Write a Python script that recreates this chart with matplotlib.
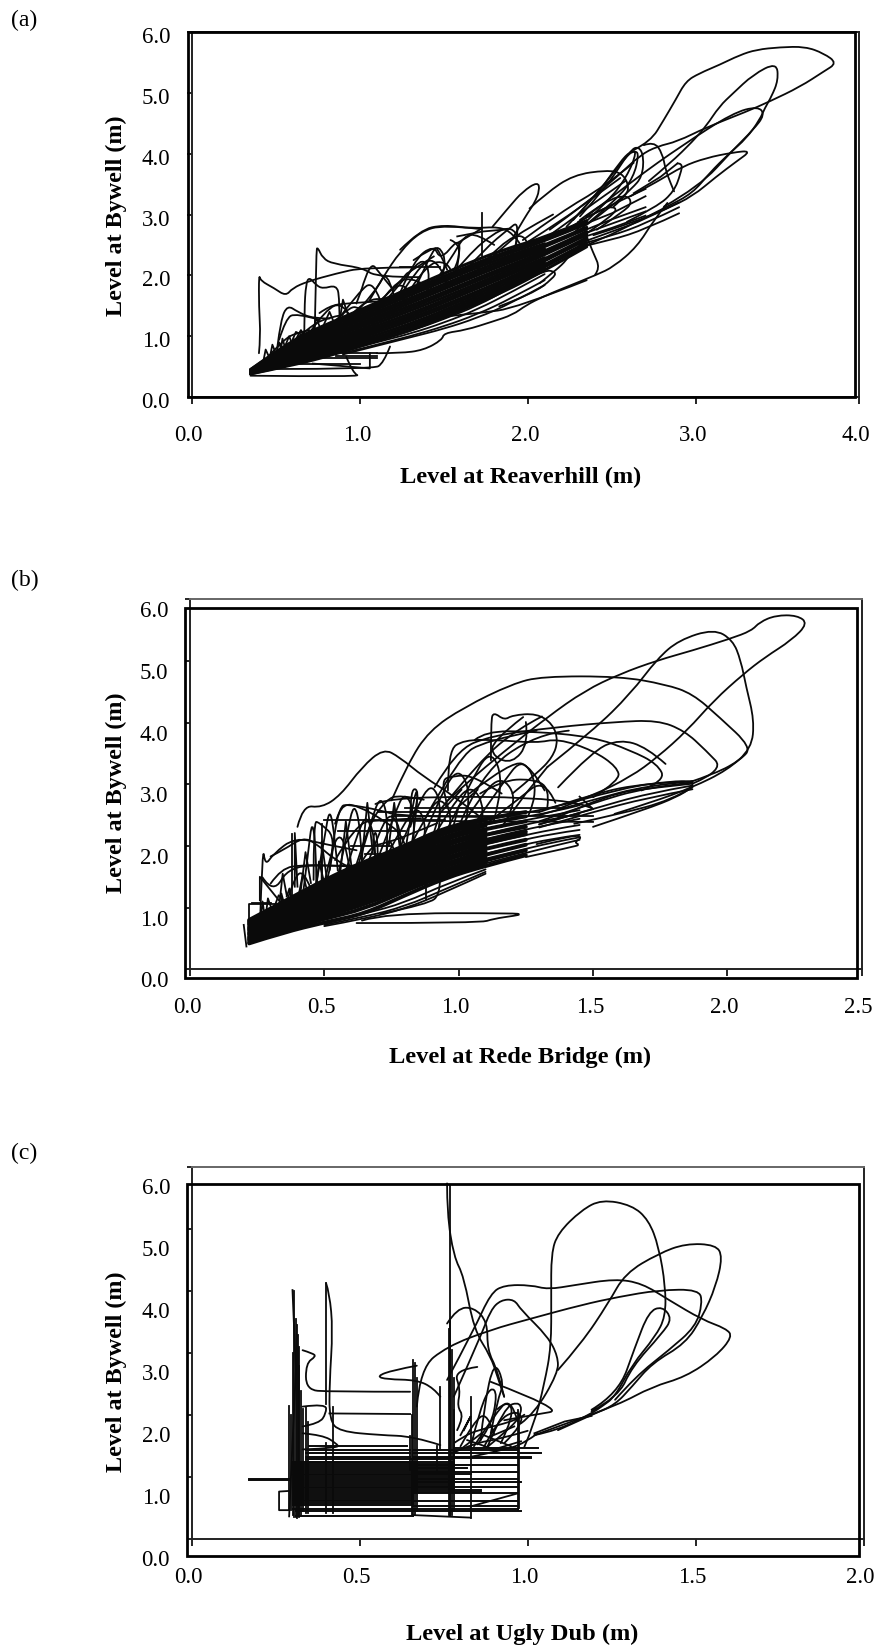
import numpy as np
import matplotlib
matplotlib.use("Agg")
import matplotlib.pyplot as plt
from matplotlib.patches import Rectangle, PathPatch
from matplotlib.path import Path
from matplotlib.transforms import ScaledTranslation

plt.rcParams['font.family'] = ['Liberation Serif', 'DejaVu Serif']

nan = np.nan

# ---------- panel (a) Reaverhill ----------
a_flood1 = [(2.63,4.06),(2.73,4.20),(2.81,4.56),(2.88,4.89),(2.94,5.19),(3.02,5.32),(3.14,5.46),(3.26,5.62),
            (3.36,5.71),(3.50,5.75),(3.65,5.76),(3.76,5.65),(3.84,5.49),(3.76,5.35),(3.62,5.10),(3.44,4.86),
            (3.30,4.69),(3.06,4.43),(2.89,4.20),(2.77,4.12),(2.67,3.98),(2.53,3.62),(2.35,3.19),(2.13,2.75)]
a_flood2 = [(2.72,3.55),(2.85,3.85),(2.98,4.20),(3.06,4.45),(3.14,4.78),(3.22,4.99),(3.34,5.30),(3.48,5.50),(3.49,5.21),(3.45,4.94),
            (3.41,4.75),(3.38,4.56),(3.30,4.25),(3.20,4.01),(3.08,3.68),(2.98,3.35),(2.83,3.13),(2.67,2.91),
            (2.43,2.58),(2.23,2.36)]
a_flood3 = [(2.35,2.97),(2.63,3.57),(2.92,4.14),(3.22,4.67),(3.37,4.78),(3.41,4.64),(3.34,4.39),(3.22,4.06),
            (3.02,3.46),(2.81,3.13)]
a_flood4 = [(2.61,3.30),(2.79,3.57),(2.92,3.79),(3.06,3.93),(3.22,4.02),(3.33,4.05),(3.24,3.87),(3.12,3.62),
            (2.98,3.30),(2.83,3.10),(2.63,2.87),(2.39,2.66)]
a_falling = [(2.83,3.19),(2.75,2.91),(2.65,2.47),(2.51,2.14),(2.41,2.01),(2.23,1.81),(2.09,1.65),(1.99,1.51),
             (1.91,1.35),(1.79,1.24),(1.63,1.10),(1.50,1.05),(1.49,0.94),(1.38,0.77),(1.24,0.72),(1.10,0.72)]
a_spike1 = [(0.40,0.72),(0.41,0.99),(0.40,1.49),(0.40,2.02),(0.41,1.91),(0.49,1.79),(0.56,1.66),(0.60,1.79),
            (0.69,1.90),(0.86,2.03),(1.02,2.13),(1.32,2.13)]
a_spike2 = [(0.73,0.66),(0.74,2.42),(0.75,2.46),(0.78,2.28),(0.84,2.19),(1.02,2.12),(1.10,1.97),(1.36,1.97)]
a_loops = [
    [(2.89,3.84),(2.92,3.84),(2.91,3.68),(2.87,3.38),(2.77,3.13),(2.59,2.88)],
    [(2.63,3.35),(2.79,3.62),(2.89,3.84)],
    [(2.69,4.14),(2.75,4.20),(2.80,4.01),(2.82,3.73),(2.85,3.51),(2.87,3.38)],
    [(2.31,2.97),(2.47,3.46),(2.61,4.06),(2.66,4.12),(2.69,3.95),(2.68,3.62),(2.62,3.43),(2.51,3.16),(2.35,2.83)],
    [(2.27,2.91),(2.43,3.40),(2.59,3.98),(2.64,4.05),(2.66,3.98),(2.63,3.62),(2.53,3.24),(2.31,2.75)],
    [(2.23,2.80),(2.41,3.32),(2.55,3.87),(2.61,4.04),(2.65,4.04),(2.59,3.62),(2.47,3.19),(2.27,2.69)],
    [(2.31,2.91),(2.47,3.24),(2.59,3.32),(2.62,3.19),(2.57,3.05),(2.41,2.75)],
    [(2.23,2.75),(2.43,3.10),(2.53,3.13),(2.51,2.99),(2.35,2.69)],
    [(2.01,3.10),(2.11,3.35),(2.27,3.65),(2.47,3.73),(2.56,3.68),(2.60,3.49),(2.59,3.32),(2.51,3.13)],
    [(1.79,2.80),(1.89,3.13),(1.97,3.38),(2.06,3.54),(2.07,3.40),(2.04,3.19),(2.00,3.03),(1.95,2.80),(1.91,2.61)],
    [(1.97,2.58),(2.20,3.05),(2.45,3.45),(2.63,3.85)],
    [(2.35,1.92),(1.93,1.46),(1.71,1.38),(1.50,1.32)],
    [(2.35,2.64),(2.39,2.36),(2.43,2.12),(2.40,2.01)],
    [(2.07,1.87),(2.17,2.09),(2.23,2.25),(2.26,2.39),(2.21,2.31)],
    [(1.83,1.70),(2.09,2.09),(2.17,2.06),(2.15,1.95),(2.03,1.70),(1.83,1.49)],
    [(1.24,2.42),(1.36,2.75),(1.50,2.83),(1.67,2.77),(1.83,2.80),(1.91,2.69),(1.95,2.53)],
    [(1.73,3.02),(1.73,2.31)],
    [(1.58,2.64),(1.73,2.72),(1.89,2.76)],
    [(1.24,2.13),(1.48,2.13)],
    [(1.32,2.25),(1.44,2.47),(1.47,2.42),(1.52,2.09)],
    [(1.54,2.58),(1.59,2.53),(1.59,2.25),(1.56,2.09)],
    [(0.67,0.94),(0.67,1.43),(0.68,1.87),(0.70,1.97),(0.74,1.84),(0.78,1.78),(0.86,1.84),(0.88,1.65),(0.88,1.10)],
    [(0.51,0.83),(0.53,1.27),(0.57,1.51),(0.63,1.40),(0.72,1.29),(0.82,1.29)],
    [(0.52,0.94),(0.56,1.29),(0.62,1.38),(0.76,1.27)],
    [(0.60,0.94),(0.62,1.07),(0.68,0.99)],
    [(0.76,1.38),(0.82,1.50),(0.92,1.54),(1.12,1.57),(1.32,1.62)],
    [(1.06,1.60),(1.14,1.98),(1.24,2.39),(1.36,2.72),(1.50,2.83),(1.72,2.76)],
    [(1.01,1.76),(1.06,2.24),(1.12,2.03),(1.20,1.76)],
    [(0.98,1.54),(1.01,1.76)],
    [(1.24,1.71),(1.32,2.25),(1.44,2.50),(1.48,2.25),(1.58,2.58),(1.60,2.47),(1.58,2.14)],
    [(1.30,1.76),(1.40,2.20),(1.52,2.23),(1.54,2.09)],
    [(1.20,1.78),(1.28,2.03),(1.44,2.31)],
    [(1.58,2.53),(1.72,2.76)],
    [(1.18,0.83),(1.14,0.55),(1.08,0.46),(0.48,0.46)],
    [(0.92,0.66),(0.96,0.39),(1.01,0.33),(0.35,0.35)],
    [(1.06,0.72),(1.06,0.47),(0.72,0.55)],
    [(1.10,0.67),(0.86,0.67)],
    [(0.47,0.72),(0.48,0.86),(0.50,0.72)],
    [(0.53,0.77),(0.54,0.96),(0.56,0.77)],
    [(1.10,0.72),(0.50,0.72)],
    [(1.00,0.55),(0.50,0.55)],
    [(1.10,0.64),(0.60,0.64)],
    # fringe above the dense band
    [(.80,1.10),(.92,1.45),(1.00,1.50),(1.05,1.30)],
    [(.85,1.20),(1.00,1.75),(1.08,1.90),(1.12,1.60)],
    [(.95,1.30),(1.10,1.75),(1.16,2.10),(1.20,1.70)],
    [(1.00,1.40),(1.10,1.50),(1.25,1.95),(1.30,1.70)],
    [(1.10,1.40),(1.28,2.00),(1.38,2.30),(1.42,2.00),(1.40,1.70)],
    [(1.20,1.50),(1.35,2.15),(1.45,2.30),(1.50,2.00)],
    [(1.30,1.60),(1.42,2.35),(1.47,2.50),(1.52,2.20),(1.48,1.90)],
    [(1.40,1.70),(1.55,2.30),(1.62,2.65),(1.70,2.68),(1.80,2.50)],
    [(1.50,1.85),(1.65,2.35),(1.80,2.70),(1.90,2.80),(1.95,2.60),(1.90,2.30)],
    [(1.60,2.00),(1.75,2.45),(1.88,2.75),(1.95,2.90),(1.93,2.50)],
    [(1.70,2.10),(1.85,2.55),(1.98,2.70),(2.00,2.50)],
    [(1.75,2.20),(1.90,2.60),(2.05,2.85),(2.15,3.00)],
    [(2.00,2.55),(2.20,2.90),(2.40,3.30),(2.55,3.60)],
    [(2.10,2.60),(2.30,3.00),(2.45,3.30),(2.58,3.55)],
    [(.45,.65),(.55,.95),(.62,1.05),(.70,1.10)],
    [(.60,.90),(.70,1.15),(.80,1.30),(.90,1.35)],
    [(.70,1.05),(.80,1.45),(.90,1.55),(.95,1.30)],
    [(.55,.80),(.58,1.00),(.60,.85)],
    [(.62,.95),(.65,1.10),(.68,.95)],
    [(.72,1.05),(.74,1.30),(.77,1.10)],
    [(.42,.50),(.44,.78),(.47,.60)],
    [(.50,.70),(.52,.90),(.54,.72)],
    [(.78,1.15),(.82,1.40),(.85,1.20)],
    [(.88,1.25),(.90,1.60),(.93,1.35)],
    [(.95,1.35),(1.04,1.62),(1.18,1.60),(1.25,1.75)],
    [(1.12,1.55),(1.20,1.85),(1.30,1.98),(1.38,1.85)],
]
a_band_x = [0.35, 0.6, 0.85, 1.1, 1.35, 1.6, 1.85, 2.1, 2.35]
a_band_y = [
    [.38,.52,.70,.92,1.14,1.42,1.72,2.08,2.47],
    [.38,.54,.73,.96,1.18,1.46,1.75,2.11,nan],
    [.39,.56,.76,.98,1.21,1.50,1.79,2.13,2.51],
    [.39,.59,.79,1.02,1.25,1.54,1.83,2.17,2.54],
    [.40,.61,.82,1.06,1.30,1.58,1.87,2.20,nan],
    [.40,.64,.85,1.10,1.34,1.62,1.91,2.23,2.59],
    [.41,.67,.89,1.13,1.38,1.67,1.96,2.26,2.62],
    [.41,.69,.92,1.17,1.42,1.71,2.00,2.29,nan],
    [.42,.72,.95,1.21,1.47,1.75,2.04,2.33,2.67],
    [.42,.74,.99,1.25,1.51,1.80,2.08,2.36,2.69],
    [.42,.77,1.02,1.29,1.55,1.84,2.12,2.39,2.72],
    [.43,.80,1.05,1.32,1.60,1.89,2.17,2.43,nan],
    [.43,.82,1.09,1.36,1.64,1.93,2.21,2.46,2.77],
    [.44,.85,1.12,1.40,1.68,1.97,2.25,2.49,2.79],
    [.44,.87,1.15,1.44,1.73,2.02,2.29,2.52,nan],
    [.44,.90,1.19,1.48,1.77,2.06,2.33,2.56,2.85],
    [.45,.92,1.22,1.51,1.81,2.10,2.37,2.59,2.87],
    [.45,.95,1.25,1.55,1.85,2.15,2.42,2.62,2.90],
]
a_under_x = [0.9, 1.1, 1.3, 1.5, 1.7, 1.9, 2.1]
a_under_y = [
    [.72,.86,1.00,1.16,1.36,1.62,1.92],
    [.75,.90,1.04,1.22,1.44,1.72,2.02],
    [.70,.84,.98,1.12,1.30,1.54,1.84],
    [.78,.92,1.08,1.28,1.50,1.80,2.10],
]
a_fan_x = [2.3, 2.5, 2.7, 2.9]
a_fan_y = [
    [2.50,2.65,2.85,3.12],
    [2.60,2.78,2.98,nan],
    [2.70,2.92,3.12,nan],
    [2.80,3.02,3.30,nan],
    [2.88,3.16,3.42,nan],
    [2.52,2.72,2.92,3.20],
    [2.65,2.85,3.05,nan],
    [2.46,2.58,2.76,3.02],
]

# ---------- panel (b) Rede Bridge ----------
b_flood1 = [(0.96,2.74),(1.04,3.06),(1.16,3.50),(1.33,4.09),(1.47,4.52),(1.60,4.79),(1.74,5.01),(1.87,5.17),
            (2.01,5.36),(2.09,5.49),(2.12,5.63),(2.18,5.74),(2.26,5.74),(2.30,5.61),(2.24,5.34),(2.14,5.06),
            (2.06,4.79),(1.95,4.36),(1.85,3.87),(1.74,3.44),(1.64,3.12),(1.50,2.82),(1.37,2.60)]
b_flood2 = [(1.33,3.28),(1.50,3.87),(1.64,4.47),(1.74,5.04),(1.82,5.34),(1.95,5.52),(2.02,5.34),(2.05,5.01),
            (2.07,4.58),(2.10,4.04),(2.09,3.58),(2.00,3.23),(1.87,2.95),(1.72,2.71),(1.58,2.52)]
b_flood3 = [(0.75,2.74),(0.81,3.33),(0.89,3.87),(1.02,4.25),(1.20,4.63),(1.31,4.75),(1.60,4.75),(1.77,4.62),
            (1.87,4.47),(1.97,4.09),(2.09,3.60),(2.05,3.40),(1.96,3.18),(1.85,3.02)]
b_flood4 = [(0.91,2.95),(0.99,3.55),(1.12,3.79),(1.37,3.93),(1.58,4.01),(1.74,4.04),(1.84,3.87),(1.92,3.55),
            (1.99,3.23),(1.87,3.01)]
b_early = [(0.40,2.31),(0.42,2.66),(0.49,2.62),(0.56,2.82),(0.64,3.28),(0.72,3.58),(0.78,3.44),(0.87,3.12),
           (0.98,2.82),(1.08,2.47)]
b_low = [(0.62,0.75),(1.08,0.75),(1.13,0.82),(1.21,0.87),(1.23,0.89),(1.21,0.91),(0.73,0.91),(0.64,0.79)]
b_loops = [
    [(0.96,2.90),(0.96,3.55),(1.02,3.72),(1.14,3.72),(1.29,3.67),(1.37,3.74),(1.50,3.55),(1.59,3.28),(1.60,3.06),(1.50,2.79)],
    [(1.06,3.72),(1.10,3.86),(1.27,3.86),(1.50,3.77),(1.64,3.55),(1.74,3.33),(1.77,3.06),(1.68,2.90)],
    [(1.37,2.95),(1.50,3.55),(1.60,3.73),(1.70,3.60),(1.77,3.33)],
    [(1.45,2.74),(1.62,2.95),(1.79,3.05),(1.87,3.05),(1.87,2.95),(1.81,2.79),(1.70,2.60),(1.50,2.31)],
    [(1.12,3.39),(1.12,4.04),(1.13,4.17),(1.17,4.04),(1.20,4.12),(1.29,4.15),(1.35,3.98),(1.37,3.71),(1.35,3.44),(1.29,3.17),(1.20,2.85)],
    [(1.24,4.09),(1.12,3.69),(1.13,3.44),(1.20,3.34),(1.26,3.66),(1.25,4.01)],
    [(0.96,2.63),(0.93,3.06),(0.98,3.14),(1.06,3.14),(1.16,2.85)],
    [(0.69,2.68),(0.75,2.81),(1.43,2.78),(1.50,2.60)],
    [(0.71,2.41),(1.50,2.39)],
    [(0.75,2.49),(1.50,2.49)],
    [(0.54,2.36),(0.56,2.63),(0.58,2.68),(0.71,2.58),(0.79,2.47),(1.16,2.47)],
    [(0.26,0.68),(0.27,2.03),(0.28,1.68),(0.31,1.87),(0.39,2.14),(0.50,2.03),(0.62,1.93)],
    [(0.27,1.49),(0.31,1.22),(0.37,1.68),(0.54,1.68),(0.75,1.68)],
    [(0.38,2.20),(0.38,0.68)],
    [(0.22,0.68),(0.22,1.06),(0.37,1.06)],
    [(0.49,2.36),(0.49,1.22)],
    [(1.29,2.03),(1.43,2.18),(1.46,2.14),(1.43,2.06),(1.45,2.02),(1.43,1.99),(1.25,1.82)],
    [(0.93,1.44),(0.93,1.22),(0.89,1.06),(0.71,0.90)],
    [(0.88,1.44),(0.88,1.14)],
    [(1.04,2.85),(1.20,3.39),(1.27,3.28),(1.32,2.90)],
    [(1.08,2.85),(1.16,3.06),(1.27,3.09),(1.34,2.95),(1.33,2.63)],
    [(1.00,2.31),(1.08,3.17),(1.29,3.82),(1.41,3.87)],
    [(0.87,2.41),(1.00,3.44),(1.10,3.71),(1.29,3.87)],
    [(0.93,2.58),(1.08,3.39),(1.22,3.90),(1.31,4.10)],
    [(0.82,2.41),(0.82,2.98),(0.86,2.85),(0.82,2.31)],
    [(1.16,2.31),(1.25,2.85),(1.33,3.28)],
    [(1.37,2.47),(1.56,2.85),(1.74,2.95),(1.87,3.01)],
    [(1.43,2.36),(1.60,2.52),(1.79,2.74),(1.87,2.95)],
    [(0.46,1.45),(0.46,2.39),(0.48,2.39),(0.55,2.10),(0.51,1.45)],
    [(0.52,1.61),(0.54,2.37),(0.57,2.69),(0.63,2.64),(0.72,2.42),(0.80,2.15),(0.82,1.72)],
    [(0.61,1.56),(0.66,2.31),(0.73,2.75),(0.78,2.83),(0.87,2.75)],
    [(0.70,1.45),(0.70,2.37),(0.67,1.99),(0.72,1.45)],
    [(0.49,1.45),(0.49,2.07),(0.51,1.45)],
    [(0.39,1.34),(0.39,2.21),(0.40,1.34)],
    [(0.30,1.83),(0.35,1.94),(0.42,2.14),(0.47,2.04),(0.54,1.77),(0.59,1.66)],
    [(0.30,1.39),(0.34,1.64),(0.42,1.69),(0.51,1.69),(0.62,1.66)],
    [(0.54,1.77),(0.62,2.37),(0.70,2.42),(0.86,2.45)],
    [(0.80,1.88),(0.84,3.02),(0.85,2.69),(0.82,1.88)],
    [(0.88,1.83),(0.93,2.53),(1.01,2.91)],
    [(0.62,1.61),(0.67,1.99),(0.72,2.04),(0.80,2.15),(0.92,2.37)],
    [(0.73,1.56),(0.73,2.15),(0.76,1.99),(0.78,1.56)],
    [(0.96,1.99),(1.00,2.64),(1.07,2.91)],
    [(0.34,1.07),(0.26,1.50),(0.26,1.12)],
    [(0.34,1.07),(0.34,1.23),(0.35,1.07)],
    [(0.36,1.18),(0.37,1.31),(0.38,1.10)],
    [(0.23,1.07),(0.30,1.07)],
    [(0.20,0.72),(0.21,0.37)],
    # fringe above the dense band
    [(.42,1.20),(.44,1.90),(.455,2.45),(.47,1.90),(.47,1.40)],
    [(.47,1.40),(.50,2.10),(.52,2.65),(.54,2.10),(.55,1.60)],
    [(.50,1.40),(.53,2.00),(.56,2.20),(.585,1.90),(.60,1.50)],
    [(.55,1.50),(.585,2.20),(.61,2.72),(.635,2.30),(.64,1.70)],
    [(.58,1.60),(.63,2.30),(.66,2.50),(.69,2.10),(.69,1.70)],
    [(.62,1.60),(.67,2.35),(.71,2.85),(.74,2.40),(.73,1.80)],
    [(.66,1.70),(.71,2.30),(.75,2.55),(.79,2.20),(.78,1.90)],
    [(.70,1.80),(.76,2.50),(.80,2.90),(.84,2.50),(.83,2.00)],
    [(.74,1.90),(.80,2.40),(.85,2.65),(.88,2.30),(.87,2.10)],
    [(.78,1.95),(.84,2.60),(.90,3.05),(.94,2.60),(.92,2.10)],
    [(.82,2.00),(.88,2.50),(.93,2.80),(.98,2.50),(.96,2.20)],
    [(.86,2.05),(.93,2.80),(1.00,3.30),(1.05,2.80),(1.02,2.25)],
    [(.90,2.10),(.98,2.70),(1.05,3.00),(1.10,2.60),(1.08,2.30)],
    [(.95,2.20),(1.04,3.00),(1.12,3.60),(1.17,3.00),(1.13,2.40)],
    [(1.00,2.25),(1.08,2.80),(1.16,3.15),(1.22,2.75),(1.18,2.45)],
    [(1.05,2.30),(1.16,3.00),(1.24,3.45),(1.30,2.90),(1.26,2.50)],
    [(1.10,2.35),(1.22,2.75),(1.32,3.10),(1.36,2.70)],
    [(.35,.95),(.38,1.40),(.42,1.65),(.45,1.30)],
    [(.33,.95),(.345,1.55),(.36,1.20)],
    [(.41,1.20),(.43,1.90),(.45,1.40)],
    [(.56,1.60),(.58,2.40),(.60,1.70)],
    [(.64,1.80),(.66,2.70),(.68,1.90)],
    [(.74,2.00),(.76,2.70),(.78,2.00)],
    [(.47,1.30),(.48,1.75),(.50,1.40)],
    [(.30,.85),(.33,1.20),(.36,1.05)],
    [(.28,.80),(.29,1.15),(.31,.90)],
    [(.26,.70),(.27,1.10),(.28,.80)],
    [(.40,1.10),(.42,1.55),(.44,1.20)],
    [(.50,2.42),(.95,2.42)],
    [(.55,2.25),(.80,2.25)],
    [(.60,2.00),(.75,2.00)],
    [(.65,1.87),(.90,1.87)],
    [(.70,2.55),(1.30,2.55)],
    [(.80,2.62),(1.40,2.62)],
    [(1.30,2.35),(1.50,2.60),(1.45,2.80)],
]
b_band_x = [0.22, 0.35, 0.5, 0.65, 0.8, 0.95, 1.1, 1.25, 1.4]
b_band_y = [
    [.42,.60,.76,.90,1.20,1.48,1.68,1.85,nan],
    [.44,.63,.82,.98,1.27,1.53,1.73,nan,nan],
    [.47,.66,.86,1.05,1.31,1.58,1.77,1.93,nan],
    [.49,.69,.90,1.09,1.36,1.63,1.82,nan,nan],
    [.51,.72,.94,1.14,1.41,1.68,1.86,2.02,nan],
    [.53,.75,.98,1.19,1.45,1.73,1.91,nan,nan],
    [.56,.78,1.02,1.24,1.50,1.78,1.96,2.10,nan],
    [.58,.81,1.06,1.29,1.55,1.82,2.00,nan,nan],
    [.60,.84,1.10,1.33,1.59,1.87,2.05,2.19,nan],
    [.63,.87,1.14,1.38,1.64,1.92,2.10,2.23,nan],
    [.65,.90,1.18,1.43,1.69,1.97,2.14,nan,nan],
    [.67,.93,1.22,1.48,1.73,2.02,2.19,2.31,nan],
    [.69,.96,1.26,1.53,1.78,2.07,2.23,nan,nan],
    [.72,.99,1.30,1.57,1.83,2.12,2.28,2.40,nan],
    [.74,1.02,1.34,1.62,1.87,2.17,2.33,nan,nan],
    [.76,1.05,1.38,1.67,1.92,2.22,2.37,2.48,nan],
    [.78,1.08,1.42,1.72,1.97,2.27,2.42,nan,nan],
    [.80,1.10,1.45,1.75,2.00,2.30,2.45,2.55,nan],
]
b_under_x = [0.5, 0.65, 0.8, 0.95, 1.1]
b_under_y = [
    [.72,.85,1.02,1.30,1.58],
    [.74,.90,1.08,1.38,1.62],
    [.70,.82,.98,1.25,1.55],
]
b_tail_x = [1.05, 1.2, 1.35, 1.45]
b_tail_y = [
    [1.66,1.83,2.00,2.10],
    [1.74,1.90,2.06,2.14],
    [1.82,1.98,2.12,2.18],
    [1.90,2.06,2.20,2.26],
    [1.98,2.13,2.27,2.34],
    [2.06,2.22,2.36,2.44],
    [2.14,2.30,2.44,2.52],
    [2.22,2.38,2.50,2.58],
    [2.30,2.44,2.55,2.66],
    [2.38,2.50,2.62,2.74],
]
b_fan_x = [1.3, 1.5, 1.7, 1.87]
b_fan_y = [
    [2.40,2.70,2.95,3.03],
    [2.50,2.75,2.98,3.05],
    [2.55,2.85,3.02,3.05],
    [2.35,2.60,2.85,2.98],
    [2.30,2.55,2.78,2.92],
]

# ---------- panel (c) Ugly Dub ----------
c_flood1 = [(0.99,1.49),(1.02,1.87),(1.05,2.52),(1.07,3.11),(1.07,3.91),(1.07,4.61),(1.09,4.94),(1.16,5.31),
            (1.22,5.48),(1.31,5.39),(1.36,5.15),(1.39,4.72),(1.41,4.08),(1.41,3.59),(1.38,3.27),(1.31,2.81),
            (1.26,2.30),(1.22,2.14),(1.19,2.03),(1.09,1.76),(1.02,1.68)]
c_flood2 = [(1.09,2.73),(1.16,3.16),(1.24,3.81),(1.29,4.29),(1.39,4.61),(1.47,4.77),(1.56,4.75),(1.58,4.56),
            (1.56,4.08),(1.52,3.59),(1.47,3.16),(1.37,2.84),(1.31,2.46),(1.26,2.17),(1.20,2.03),(1.09,1.76)]
c_flood3 = [(0.76,2.57),(0.84,3.38),(0.89,3.97),(0.93,4.10),(1.01,4.10),(1.06,4.03),(1.14,4.10),(1.26,4.20),
            (1.34,4.13),(1.42,3.86),(1.52,3.54),(1.59,3.40),(1.61,3.27),(1.56,2.95),(1.47,2.62),(1.37,2.46),
            (1.27,2.17),(1.09,1.82),(1.02,1.68)]
c_flood4 = [(0.67,2.14),(0.68,2.76),(0.76,3.11),(0.89,3.38),(1.01,3.56),(1.16,3.78),(1.27,3.91),(1.39,4.02),
            (1.51,4.03),(1.52,3.81),(1.50,3.43),(1.42,3.05),(1.32,2.62),(1.26,2.25)]
c_loops = [
    [(1.19,2.09),(1.27,2.35),(1.32,3.11),(1.36,3.67),(1.40,3.76),(1.43,3.56),(1.40,3.32),(1.31,2.78),(1.27,2.30),(1.19,2.06)],
    [(0.76,5.74),(0.76,5.26),(0.78,4.56),(0.81,4.24),(0.84,3.38),(0.89,2.95),(0.91,2.62),(0.93,2.30)],
    [(0.77,5.72),(0.77,0.96)],
    [(0.78,2.30),(0.86,3.27),(0.89,3.70),(0.92,3.86),(0.96,3.87),(0.98,3.70),(1.06,3.27),(1.09,2.95),(1.09,2.68),(1.02,2.03),(0.98,1.87)],
    [(0.76,3.48),(0.79,3.73),(0.84,3.74),(0.88,3.51),(0.88,3.05),(0.91,2.73),(0.93,2.30)],
    [(0.89,2.54),(1.11,2.09),(1.02,2.01),(0.93,1.92)],
    [(0.67,2.80),(0.60,2.73),(0.55,2.63),(0.58,2.58),(0.67,2.57),(0.72,2.44),(0.74,2.30)],
    [(0.30,4.02),(0.31,2.73),(0.29,0.37)],
    [(0.40,4.13),(0.41,3.97),(0.42,3.38),(0.41,2.52),(0.41,1.92),(0.44,1.74),(0.56,1.68),(0.66,1.66),(0.74,1.52)],
    [(0.40,4.13),(0.40,2.19)],
    [(0.33,3.05),(0.36,3.00),(0.37,2.95),(0.34,2.84),(0.34,2.41),(0.41,2.38),(0.65,2.38)],
    [(0.41,2.03),(0.65,2.02)],
    [(0.33,2.14),(0.40,2.19),(0.40,2.03),(0.38,1.87),(0.33,1.82)],
    [(0.33,1.71),(0.39,1.68),(0.43,1.55),(0.44,1.47),(0.33,1.45)],
    [(0.29,0.78),(0.26,0.77),(0.26,0.77),(0.26,0.47),(0.26,0.47),(0.29,0.47)],
    [(0.83,0.53),(0.97,0.74)],
    [(0.83,1.49),(0.86,2.14),(0.89,2.46),(0.91,2.35),(0.89,1.81),(0.85,1.53)],
    [(0.88,1.49),(0.93,2.14),(0.98,2.22),(0.98,1.98),(0.93,1.71),(0.88,1.49)],
    [(0.93,1.55),(0.99,1.87),(0.97,2.09),(0.91,1.92),(0.87,1.49)],
    [(0.79,1.76),(0.81,1.98),(0.79,2.14),(0.80,2.41),(0.78,2.73),(0.85,2.78)],
    [(0.80,1.68),(0.83,1.98),(0.81,1.76)],
    [(0.86,1.60),(0.87,2.14),(0.90,2.89),(0.93,2.52),(0.91,2.25),(0.89,1.71)],
    [(1.03,1.71),(0.99,1.55),(0.93,1.44),(0.83,1.33)],
    [(1.02,1.71),(1.11,1.90),(1.19,1.99)],
    [(0.78,1.55),(0.81,1.66),(0.85,1.76),(0.97,1.92),(0.99,2.01)],
    [(0.89,1.66),(0.96,1.82)],
    [(0.82,1.60),(0.90,1.45),(0.98,1.58)],
    [(0.80,1.45),(0.86,1.70),(0.95,1.50)],
    [(0.83,0.35),(0.83,2.30)],
    [(0.66,0.39),(0.83,0.35)],
    [(0.80,1.50),(0.84,1.90),(0.88,2.05),(0.90,1.70)],
    [(0.84,1.50),(0.90,2.00),(0.95,2.30),(0.97,1.90)],
    [(0.92,1.55),(0.96,2.00),(0.94,2.25),(0.91,2.10)],
    [(0.78,1.40),(0.84,1.55),(0.92,1.62),(1.00,1.75)],
]
c_flat_y = [.38,.45,.49,.55,.58,.61,.64,.67,.70,.73,.76,.79,.82,.85,.88,.91,.94,.97,1.00,1.03,1.06,1.09,1.12,1.15,1.18,1.21,1.24,
            1.25,1.29,1.33,1.39,1.44,1.50,.955,.97,
            .45,.49,.53,.62,.74,.77,.80,.85,.93,.98,1.09,1.20,1.31,1.33,1.39,1.44,1.47,1.15,1.05]
c_flat_x0 = [.31,.31,.30,.30,.30,.30,.30,.30,.30,.30,.30,.30,.30,.30,.30,.30,.30,.30,.30,.30,.30,.30,.30,.30,.30,.30,.30,
             .34,.34,.34,.34,.34,.35,.17,.17,
             .66,.66,.66,.66,.66,.66,.66,.66,.66,.66,.66,.66,.66,.66,.66,.66,.78,.66,.66]
c_flat_x1 = [.66,.66,.66,.66,.66,.66,.66,.66,.66,.66,.66,.66,.78,.78,.78,.78,.78,.78,.78,.78,.78,.78,.78,.78,.78,.78,.78,
             .65,.78,.65,.65,.65,.64,.29,.29,
             .98,.97,.97,.97,.97,.86,.86,.97,.98,.97,.97,.97,1.01,1.01,1.04,.97,1.03,.82,.83]
c_vert_x = [.305,.31,.315,.32,.325,.33,.29,.295,.34,.345,.42,.66,.665,.67,.73,.74,.765,.77,.775,.78,.65,.97,.975,.78,.40,.30,.312,.318,.655,.768]
c_vert_top = [4.0,3.55,3.3,2.8,2.4,2.1,2.15,2.0,2.14,1.9,2.14,2.9,2.85,2.6,1.5,2.46,3.4,3.55,3.05,2.6,1.66,2.09,2.0,2.09,1.55,3.0,3.45,3.1,2.0,3.5]
c_vert_bot = [.36,.36,.40,.36,.40,.45,.47,.47,.42,.42,.42,.37,.40,.45,1.12,1.44,.40,.37,.40,.45,1.12,.47,.50,1.2,.42,.40,.34,.38,.40,.40]

# ---------- shared text ----------
y_ticks = [0, 1, 2, 3, 4, 5, 6]
y_labels = ['0.0', '1.0', '2.0', '3.0', '4.0', '5.0', '6.0']
a_xticks = [0, 1, 2, 3, 3.972]
a_xlabels = ['0.0', '1.0', '2.0', '3.0', '4.0']
b_xticks = [0, 0.5, 1.0, 1.5, 2.0, 2.5]
b_xlabels = ['0.0', '0.5', '1.0', '1.5', '2.0', '2.5']
c_xticks = [0, 0.5, 1.0, 1.5, 2.0]
c_xlabels = ['0.0', '0.5', '1.0', '1.5', '2.0']

W, H = 876, 1650
LW = 1.3
fig = plt.figure(figsize=(W / 100, H / 100), dpi=100)


def make_panel(left, right, top, bottom, frame, xmax, xticks, xlabels, shift, xlab_y, xlabel, xlab_x, ylab_y, letter, letter_y, topcolor):
    ax = fig.add_axes([left / W, 1 - bottom / H, (right - left) / W, (bottom - top) / H])
    ax.set_xlim(0, xmax)
    ax.set_ylim(0, 6)
    for s in ax.spines.values():
        s.set_linewidth(1.4)
        s.set_color('#222222')
    ax.spines['top'].set_color(topcolor)
    ax.set_xticks(xticks)
    ax.set_xticklabels(xlabels)
    ax.set_yticks(y_ticks)
    ax.set_yticklabels(y_labels)
    ax.tick_params(axis='x', length=5, width=1.2, labelsize=16.5, pad=15)
    ax.tick_params(axis='y', length=3.6, width=1.2, labelsize=16.5, pad=12)
    # the tick numbers sit lower than the ticks in the original figure
    off = ScaledTranslation(0, -shift / 100, fig.dpi_scale_trans)
    for t in ax.get_yticklabels():
        t.set_transform(t.get_transform() + off)
    off2 = ScaledTranslation(-3 / 100, 0, fig.dpi_scale_trans)
    for t in ax.get_xticklabels():
        t.set_transform(t.get_transform() + off2)

    # second box pasted over the chart
    x0 = (frame[0] - left) / (right - left)
    x1 = (frame[1] - left) / (right - left)
    y0 = (bottom - frame[3]) / (bottom - top)
    y1 = (bottom - frame[2]) / (bottom - top)
    ax.add_patch(Rectangle((x0, y0), x1 - x0, y1 - y0, transform=ax.transAxes, fill=False,
                           edgecolor='black', linewidth=2.0, clip_on=False, zorder=5))

    ax.set_xlabel(xlabel, fontsize=17.6, fontweight='bold')
    ax.xaxis.set_label_coords((xlab_x - left) / (right - left), (bottom - xlab_y) / (bottom - top))
    ax.xaxis.label.set_verticalalignment('center')
    ax.set_ylabel('Level at Bywell (m)', fontsize=17.4, fontweight='bold')
    ax.yaxis.set_label_coords((116 - left) / (right - left), (bottom - ylab_y) / (bottom - top))
    ax.yaxis.label.set_verticalalignment('center')
    fig.text(11 / W, 1 - letter_y / H, letter, fontsize=17, ha='left', va='center')
    return ax


def draw_curve(ax, pts, lw):
    # rounded through the read points, the recorder traces have no corners
    pts = [p for p in pts if not np.isnan(p[1])]
    if len(pts) < 4:
        ax.plot([q[0] for q in pts], [q[1] for q in pts], color='#0a0a0a', lw=lw, solid_joinstyle='round')
        return
    verts = [pts[0]]
    codes = [Path.MOVETO]
    for i in range(1, len(pts) - 1):
        end = pts[-1] if i == len(pts) - 2 else ((pts[i][0] + pts[i + 1][0]) / 2, (pts[i][1] + pts[i + 1][1]) / 2)
        verts += [pts[i], end]
        codes += [Path.CURVE3, Path.CURVE3]
    ax.add_patch(PathPatch(Path(verts, codes), fill=False, edgecolor='#0a0a0a', lw=lw, joinstyle='round', capstyle='round'))


def draw_paths(ax, paths, lw=LW):
    for p in paths:
        draw_curve(ax, p, lw)


def draw_rows(ax, xs, rows, lw):
    for r in rows:
        draw_curve(ax, list(zip(xs, r)), lw)


ax_a = make_panel(191.7, 859.3, 32, 397, (187.5, 855, 32, 397), 3.972, a_xticks, a_xlabels, 3, 432,
                  'Level at Reaverhill (m)', 521, 216, '(a)', 20, '#222222')
draw_paths(ax_a, [a_flood1, a_flood2, a_flood3, a_flood4, a_falling, a_spike1, a_spike2] + a_loops)
draw_rows(ax_a, a_band_x, a_band_y, 2.2)
draw_rows(ax_a, a_under_x, a_under_y, LW)
draw_rows(ax_a, a_fan_x, a_fan_y, LW)
ax_a.xaxis.set_label_coords((521 - 191.7) / (859.3 - 191.7), (397 - 477) / 365)

ax_b = make_panel(190, 861.7, 599.3, 969.3, (185, 856.7, 607.5, 978), 2.5, b_xticks, b_xlabels, 10, 1011,
                  'Level at Rede Bridge (m)', 520, 793, '(b)', 580, '#666666')
draw_paths(ax_b, [b_flood1, b_flood2, b_flood3, b_flood4, b_early, b_low] + b_loops)
draw_rows(ax_b, b_band_x, b_band_y, 2.8)
draw_rows(ax_b, b_under_x, b_under_y, LW)
draw_rows(ax_b, b_tail_x, b_tail_y, LW)
draw_rows(ax_b, b_fan_x, b_fan_y, LW)
ax_b.xaxis.set_label_coords((520 - 190) / (861.7 - 190), (969.3 - 1057) / 370)

ax_c = make_panel(191.7, 863.7, 1167.3, 1539.3, (186.7, 859, 1184, 1556), 2.0, c_xticks, c_xlabels, 19, 1589,
                  'Level at Ugly Dub (m)', 522, 1372, '(c)', 1153, '#666666')
draw_paths(ax_c, [c_flood1, c_flood2, c_flood3, c_flood4] + c_loops)
for y, x0, x1 in zip(c_flat_y, c_flat_x0, c_flat_x1):
    ax_c.plot([x0, x1], [y, y], color='#0a0a0a', lw=LW + 0.1)
for x, t, b in zip(c_vert_x, c_vert_top, c_vert_bot):
    ax_c.plot([x, x], [b, t], color='#0a0a0a', lw=LW)
ax_c.xaxis.set_label_coords((522 - 191.7) / (863.7 - 191.7), (1539.3 - 1634) / 372)

fig.savefig('out.png', dpi=100)
